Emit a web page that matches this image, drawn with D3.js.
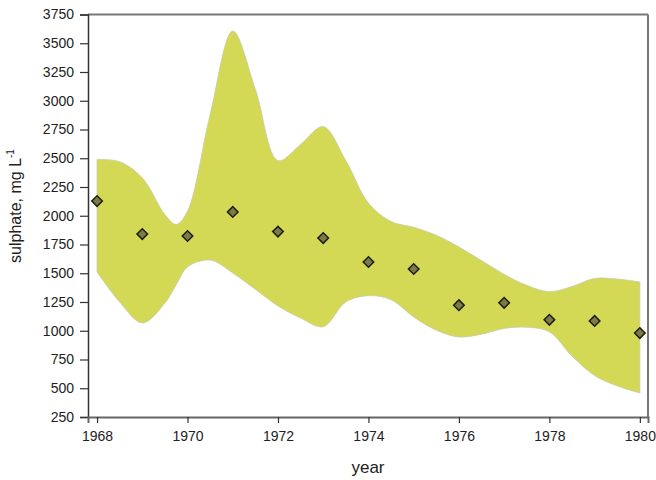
<!DOCTYPE html>
<html><head><meta charset="utf-8">
<script src="https://cdn.jsdelivr.net/npm/d3@7"></script>
<style>body{margin:0;background:#fff}svg{display:block}text{font-family:Arial,"Liberation Sans",sans-serif;fill:#222}</style>
</head><body>
<script>
const years = [1968,1969,1970,1971,1972,1973,1974,1975,1976,1977,1978,1979,1980];
const sulphate = [2128,1841,1824,2033,1862,1806,1598,1537,1222,1243,1095,1085,980];
const bandYears = [1968,1968.5,1969,1969.5,1969.75,1970,1970.5,1971,1971.5,1972,1972.5,1973,1973.5,1974,1974.5,1975,1975.5,1976,1976.5,1977,1977.5,1978,1978.5,1979,1979.5,1980];
const bandUpper = [2490,2470,2330,2010,1925,2040,2880,3606,3100,2480,2620,2775,2480,2110,1950,1900,1830,1728,1610,1490,1395,1340,1385,1455,1450,1424];
const bandLower = [1511,1250,1068,1240,1400,1555,1615,1502,1360,1215,1110,1035,1250,1305,1270,1120,1005,946,970,1020,1030,990,780,610,520,459];
const yTicks = d3.range(250, 3751, 250);
const xTicks = [1968,1970,1972,1974,1976,1978,1980];

const W = 656, H = 480;
const m = {left: 88, right: 8, top: 14.5, bottom: 63};
const svg = d3.select("body").append("svg").attr("width", W).attr("height", H);
const x = d3.scaleLinear().domain([1967.8, 1980.18]).range([m.left, W - m.right]);
const y = d3.scaleLinear().domain([250, 3750]).range([H - m.bottom, m.top]);

const band = bandYears.map((yr, i) => ({yr, hi: bandUpper[i], lo: bandLower[i]}));
const area = d3.area().x(d => x(d.yr)).y0(d => y(d.lo)).y1(d => y(d.hi)).curve(d3.curveCatmullRom.alpha(0.5));
svg.append("path").datum(band).attr("d", area)
  .attr("fill", "#d3d955").attr("stroke", "#c9caa8").attr("stroke-width", 0.8);

// frame top & right
svg.append("line").attr("x1", m.left).attr("x2", W - m.right).attr("y1", m.top).attr("y2", m.top)
  .attr("stroke", "#777").attr("stroke-width", 2);
svg.append("line").attr("x1", W - m.right).attr("x2", W - m.right).attr("y1", m.top).attr("y2", H - m.bottom)
  .attr("stroke", "#777").attr("stroke-width", 2);

// axes
const yAxis = svg.append("g").attr("transform", `translate(${m.left},0)`)
  .call(d3.axisLeft(y).tickValues(yTicks).tickSize(8).tickPadding(6).tickFormat(d3.format("d")));
yAxis.select(".domain").attr("stroke", "#333").attr("stroke-width", 1.5);
yAxis.selectAll(".tick line").attr("stroke", "#333").attr("stroke-width", 1.2);
yAxis.selectAll("text").attr("font-size", 14).attr("fill", "#222");

const xAxis = svg.append("g").attr("transform", `translate(0,${H - m.bottom})`)
  .call(d3.axisBottom(x).tickValues(xTicks).tickSize(6).tickPadding(8).tickFormat(d3.format("d")));
xAxis.select(".domain").attr("stroke", "#666").attr("stroke-width", 2);
xAxis.selectAll(".tick line").attr("stroke", "#333").attr("stroke-width", 1.2);
xAxis.selectAll("text").attr("font-size", 14).attr("fill", "#222");

// points
const sym = d3.symbol().type(d3.symbolSquare).size(56);
svg.append("g").selectAll("path").data(years).join("path")
  .attr("d", sym)
  .attr("transform", (d, i) => `translate(${x(d)},${y(sulphate[i])}) rotate(45)`)
  .attr("fill", "#7b7b47").attr("stroke", "#1e1e10").attr("stroke-width", 1.5);

// titles
svg.append("text").attr("x", (m.left + W - m.right) / 2).attr("y", 473)
  .attr("text-anchor", "middle").attr("font-size", 17).text("year");
const yt = svg.append("text").attr("transform", "translate(21,206) rotate(-90)")
  .attr("text-anchor", "middle").attr("font-size", 16);
yt.append("tspan").text("sulphate, mg L");
yt.append("tspan").attr("dy", -7).attr("font-size", 10).text("-1");
</script>
</body></html>
